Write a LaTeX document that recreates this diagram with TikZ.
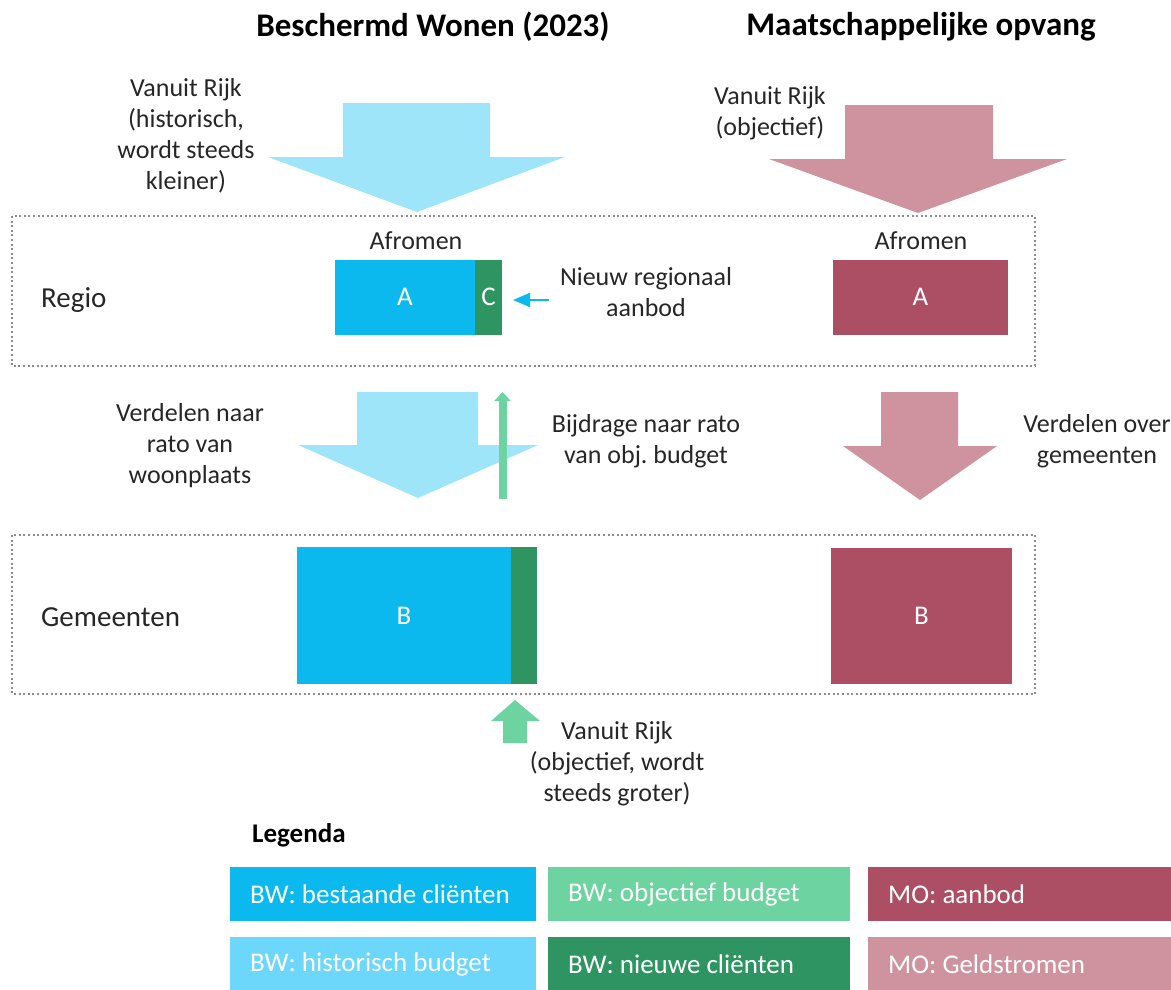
\documentclass[tikz,border=0pt]{standalone}
\usepackage{fontspec}
\setmainfont{Carlito}
\usetikzlibrary{arrows.meta}
\frenchspacing
\definecolor{txt}{HTML}{262626}
\definecolor{lblue}{HTML}{9EE5FA}
\definecolor{hblue}{HTML}{6CD7FA}
\definecolor{dblue}{HTML}{0CB9EE}
\definecolor{dgreen}{HTML}{2E9462}
\definecolor{lgreen}{HTML}{6DD3A0}
\definecolor{dmauve}{HTML}{AC4E64}
\definecolor{lmauve}{HTML}{CE939F}
\definecolor{boxgray}{HTML}{8C8C8C}
\tikzset{
  lbl/.style={text=txt, align=center, inner sep=0pt, font=\fontsize{26}{31}\selectfont},
  side/.style={text=txt, inner sep=0pt, anchor=west, font=\fontsize{29}{34}\selectfont},
  ttl/.style={text=black, inner sep=0pt, font=\fontsize{33}{38}\selectfont\bfseries},
  blk/.style={inner sep=0pt, text=white, font=\fontsize{27}{30}\selectfont},
  region/.style={draw=boxgray, line width=2pt, dash pattern=on 2pt off 2.6pt},
  legbox/.style={anchor=north west, inner sep=0pt, minimum height=54pt},
  legtxt/.style={anchor=west, inner sep=0pt, text=white, font=\fontsize{27}{30}\selectfont},
}
\begin{document}
\begin{tikzpicture}[x=1pt,y=-1pt]
\useasboundingbox (0,0) rectangle (1171,989);
% titles
\node[ttl] (t1) at (433,27) {Beschermd Wonen (2023)};
\node[ttl] (t2) at (921,27) {Maatschappelijke opvang};
% top arrows
\fill[lblue] (343,103) -- (490,103) -- (490,157) -- (565,157) -- (417,212) -- (268,157) -- (343,157) -- cycle;
\fill[lmauve] (845,105) -- (993,105) -- (993,159) -- (1067,159) -- (918,213) -- (769,159) -- (845,159) -- cycle;
\node[lbl] (v1) at (186,136) {Vanuit Rijk\\(historisch,\\wordt steeds\\kleiner)};
\node[lbl] (v2) at (770,113) {Vanuit Rijk\\(objectief)};
% regio box
\draw[region] (12,216) rectangle (1035,366);
\node[side] (regio) at (41,300) {Regio};
\node[lbl] (af1) at (416,241) {Afromen};
\node[lbl] (af2) at (921,241) {Afromen};
\node[blk, fill=dblue, minimum width=140pt, minimum height=75pt] (bA) at (405,297) {A};
\node[blk, fill=dgreen, minimum width=27pt, minimum height=75pt] (bC) at (488.5,297) {C};
\node[blk, fill=dmauve, minimum width=175pt, minimum height=75pt] (mA) at (920.5,297) {A};
\node[lbl] (nra) at (646,292) {Nieuw regionaal\\aanbod};
\coordinate (nraS) at (549,300);
\coordinate (nraE) at (513,300);
\draw[dblue, line width=2pt, -{Triangle[width=14pt,length=17pt]}] (nraS) -- (nraE);
% middle arrows
\fill[lblue] (357,392) -- (478,392) -- (478,445) -- (538,445) -- (418,498) -- (298,445) -- (357,445) -- cycle;
\fill[lmauve] (881,392) -- (958,392) -- (958,446) -- (997,446) -- (920,500) -- (843,446) -- (881,446) -- cycle;
\coordinate (gbot) at (502.5,499);
\coordinate (gtop) at (502.5,392);
\draw[lgreen, line width=8pt, -{Triangle[width=16pt,length=9pt]}] (gbot) -- (gtop);
\node[lbl] (vn) at (190,446) {Verdelen naar\\rato van\\woonplaats};
\node[lbl] (bij) at (646,441) {Bijdrage naar rato\\van obj. budget};
\node[lbl] (vo) at (1097,441) {Verdelen over\\gemeenten};
% gemeenten box
\draw[region] (12,535) rectangle (1035,694);
\node[side] (gem) at (41,617) {Gemeenten};
\node[blk, fill=dblue, minimum width=214pt, minimum height=137pt] (bB) at (404,615.5) {B};
\node[blk, fill=dgreen, minimum width=26pt, minimum height=137pt] (bG) at (524,615.5) {};
\node[blk, fill=dmauve, minimum width=181pt, minimum height=136pt] (mB) at (921.5,616) {B};
% bottom green arrow
\fill[lgreen] (515,700) -- (540,721) -- (527,721) -- (527,743) -- (503,743) -- (503,721) -- (491,721) -- cycle;
\node[lbl] (vr) at (617,764) {Vanuit Rijk\\(objectief, wordt\\steeds groter)};
% legend
\node[text=black, inner sep=0pt, anchor=west, font=\fontsize{27}{30}\selectfont\bfseries] (leg) at (252,835) {Legenda};
\node[legbox, fill=dblue, minimum width=306pt] (l1) at (230,867) {};
\node[legbox, fill=lgreen, minimum width=302pt] (l2) at (548,867) {};
\node[legbox, fill=dmauve, minimum width=303pt] (l3) at (868,867) {};
\node[legbox, fill=hblue, minimum width=306pt] (l4) at (230,937) {};
\node[legbox, fill=dgreen, minimum width=302pt] (l5) at (548,937) {};
\node[legbox, fill=lmauve, minimum width=303pt] (l6) at (868,937) {};
\node[legtxt] (t1l) at ([xshift=20pt]l1.west) {BW: bestaande cliënten};
\node[legtxt] (t2l) at ([xshift=20pt]l2.west) {BW: objectief budget};
\node[legtxt] (t3l) at ([xshift=20pt]l3.west) {MO: aanbod};
\node[legtxt] (t4l) at ([xshift=20pt]l4.west) {BW: historisch budget};
\node[legtxt] (t5l) at ([xshift=20pt]l5.west) {BW: nieuwe cliënten};
\node[legtxt] (t6l) at ([xshift=20pt]l6.west) {MO: Geldstromen};
\end{tikzpicture}
\end{document}
